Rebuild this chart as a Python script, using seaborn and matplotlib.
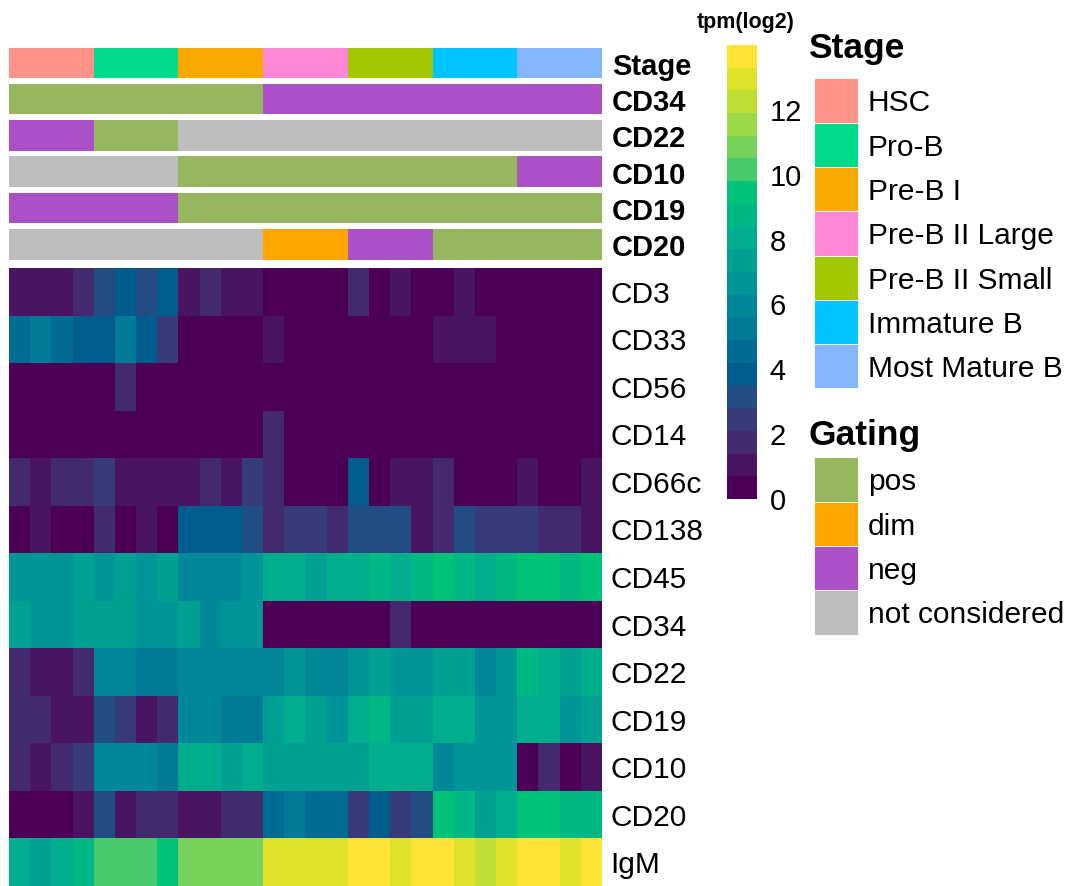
import numpy as np
import pandas as pd
import seaborn as sns
import matplotlib
matplotlib.use("Agg")
import matplotlib.pyplot as plt
from matplotlib.colors import ListedColormap
from matplotlib.patches import Rectangle

# ---------------------------------------------------------------- data
stages = ["HSC", "Pro-B", "Pre-B I", "Pre-B II Large", "Pre-B II Small",
          "Immature B", "Most Mature B"]
stage_colors = ["#FF9289", "#00DB8B", "#F7A900", "#FF85D5", "#A3C800",
                "#00C4FF", "#86B5FF"]
replicates = 4

gating_levels = ["pos", "dim", "neg", "not considered"]
gating_colors = ["#97B75E", "#FFA500", "#AB50C6", "#BEBEBE"]

gate_markers = ["CD34", "CD22", "CD10", "CD19", "CD20"]
gate_cd34 = ["pos", "pos", "pos", "neg", "neg", "neg", "neg"]
gate_cd22 = ["neg", "pos", "not considered", "not considered", "not considered",
             "not considered", "not considered"]
gate_cd10 = ["not considered", "not considered", "pos", "pos", "pos", "pos", "neg"]
gate_cd19 = ["neg", "neg", "pos", "pos", "pos", "pos", "pos"]
gate_cd20 = ["not considered", "not considered", "not considered", "dim", "neg",
             "pos", "pos"]

genes = ["CD3", "CD33", "CD56", "CD14", "CD66c", "CD138", "CD45", "CD34",
         "CD22", "CD19", "CD10", "CD20", "IgM"]

# log2 tpm, 28 samples (4 per stage)
cd3 = [1.0, 0.9, 1.1, 1.8, 3.2, 3.9, 3.0, 4.0, 1.1, 1.6, 1.0, 0.9, 0.0, 0.1,
       0.0, 0.2, 1.8, 0.0, 1.2, 0.0, 0.1, 1.0, 0.0, 0.0, 0.1, 0.0, 0.0, 0.0]
cd33 = [4.6, 5.3, 4.7, 3.8, 3.7, 5.1, 4.0, 2.5, 0.0, 0.1, 0.0, 0.0, 1.0, 0.0,
        0.1, 0.0, 0.0, 0.0, 0.2, 0.0, 0.9, 1.1, 1.0, 0.0, 0.0, 0.1, 0.0, 0.0]
cd56 = [0.0, 0.1, 0.0, 0.0, 0.1, 1.8, 0.0, 0.0, 0.0, 0.0, 0.1, 0.0, 0.0, 0.0,
        0.0, 0.0, 0.0, 0.0, 0.0, 0.1, 0.0, 0.0, 0.0, 0.0, 0.0, 0.0, 0.0, 0.0]
cd14 = [0.0, 0.0, 0.1, 0.0, 0.0, 0.0, 0.0, 0.1, 0.0, 0.0, 0.0, 0.0, 1.9, 0.0,
        0.0, 0.1, 0.0, 0.0, 0.0, 0.0, 0.0, 0.0, 0.1, 0.0, 0.0, 0.0, 0.0, 0.0]
cd66c = [1.8, 1.1, 1.7, 1.9, 2.4, 1.0, 1.2, 0.9, 1.1, 1.7, 1.0, 2.5, 1.8, 0.1,
         0.0, 0.2, 3.8, 0.1, 1.0, 1.1, 1.6, 0.0, 0.1, 0.0, 1.2, 0.0, 0.1, 1.0]
cd138 = [0.2, 1.0, 0.1, 0.0, 1.8, 0.1, 1.2, 0.0, 3.9, 3.8, 4.0, 3.2, 1.9, 2.4,
         2.6, 1.7, 3.1, 3.3, 3.0, 1.1, 1.8, 3.2, 2.5, 2.3, 2.4, 1.7, 1.9, 1.0]
cd45 = [6.6, 6.7, 6.5, 7.3, 6.6, 7.4, 6.8, 7.5, 6.0, 5.9, 6.1, 6.6, 8.1, 8.0,
        7.4, 8.2, 8.0, 8.8, 8.1, 8.6, 9.5, 8.7, 8.0, 8.9, 9.6, 9.4, 8.8, 9.5]
cd34 = [7.4, 6.7, 6.6, 7.3, 7.5, 7.2, 6.8, 6.5, 7.6, 6.0, 6.7, 6.6, 0.0, 0.1,
        0.0, 0.0, 0.1, 0.0, 1.8, 0.0, 0.0, 0.1, 0.0, 0.0, 0.0, 0.0, 0.1, 0.0]
cd22 = [1.7, 1.0, 1.1, 1.8, 5.9, 6.0, 5.2, 5.3, 5.8, 6.1, 5.9, 6.0, 5.8, 6.6,
        5.9, 6.0, 6.7, 7.1, 6.5, 6.6, 7.5, 7.3, 5.9, 6.7, 8.8, 8.0, 7.4, 8.1]
cd19 = [1.8, 1.7, 1.0, 1.1, 3.1, 2.4, 0.9, 1.7, 5.9, 6.0, 5.2, 5.3, 7.4, 8.0,
        7.3, 6.6, 8.2, 8.7, 7.4, 7.5, 8.1, 8.0, 6.7, 6.6, 8.0, 8.2, 6.5, 7.3]
cd10 = [1.7, 1.0, 1.8, 2.4, 6.0, 5.9, 6.1, 5.3, 8.1, 8.0, 7.4, 8.1, 7.3, 7.4,
        7.5, 7.3, 7.4, 8.0, 8.1, 8.2, 5.9, 6.6, 6.7, 6.5, 0.1, 1.8, 0.0, 1.1]
cd20 = [0.0, 0.1, 0.0, 1.0, 3.1, 1.1, 1.7, 1.8, 1.0, 0.9, 1.7, 1.8, 4.6, 5.2,
        4.5, 4.6, 2.4, 3.8, 2.5, 3.2, 9.4, 8.7, 7.3, 8.1, 9.5, 9.4, 8.8, 8.7]
igm = [8.1, 7.4, 8.0, 8.7, 10.2, 10.1, 10.3, 9.5, 10.8, 10.9, 10.7, 10.8, 12.9,
       13.0, 12.8, 12.9, 13.6, 13.7, 12.9, 13.6, 13.5, 12.9, 12.2, 13.0, 13.7,
       13.6, 12.9, 13.6]

value_range = (0, 14)
n_colors = 20
cbar_ticks = [0, 2, 4, 6, 8, 10, 12]


# ---------------------------------------------------------------- palette
def hcl_sequential(n, h=(300, 75), c=(40, 95), l=(15, 90), power=(1.0, 1.1)):
    """HCL based 'viridis' sequential palette (polar LUV -> sRGB)."""
    i = np.linspace(1, 0, n)
    H = h[1] - (h[1] - h[0]) * i
    C = c[1] - (c[1] - c[0]) * i ** power[0]
    L = l[1] - (l[1] - l[0]) * i ** power[1]
    Xn, Yn, Zn = 95.047, 100.0, 108.883
    hr = np.deg2rad(H)
    U, V = C * np.cos(hr), C * np.sin(hr)
    Y = np.where(L > 7.999592, Yn * ((L + 16) / 116) ** 3, Yn * L / 903.3)
    t = Xn + 15 * Yn + 3 * Zn
    un, vn = 4 * Xn / t, 9 * Yn / t
    up = U / (13 * L) + un
    vp = V / (13 * L) + vn
    X = 9 * Y * up / (4 * vp)
    Z = (12 - 3 * up - 20 * vp) * Y / (4 * vp)
    xyz = np.vstack([X, Y, Z]) / 100.0
    M = np.array([[3.2406, -1.5372, -0.4986],
                  [-0.9689, 1.8758, 0.0415],
                  [0.0557, -0.2040, 1.0570]])
    rgb = np.clip(M @ xyz, 0, 1)
    rgb = np.where(rgb <= 0.0031308, 12.92 * rgb,
                   1.055 * rgb ** (1 / 2.4) - 0.055)
    return [tuple(col) for col in np.clip(rgb, 0, 1).T]


heat_cmap = ListedColormap(hcl_sequential(n_colors))

# ---------------------------------------------------------------- frames
sample_stage = [s for s in stages for _ in range(replicates)]
samples = [f"{s}_{k + 1}" for s in stages for k in range(replicates)]
expr = pd.DataFrame([cd3, cd33, cd56, cd14, cd66c, cd138, cd45, cd34, cd22,
                     cd19, cd10, cd20, igm], index=genes, columns=samples)

gate_table = pd.DataFrame([gate_cd34, gate_cd22, gate_cd10, gate_cd19, gate_cd20],
                          index=gate_markers, columns=stages)

# ---------------------------------------------------------------- figure
sns.set_style("white")
plt.rcParams["font.family"] = ["Liberation Sans", "DejaVu Sans"]
plt.rcParams["text.color"] = "black"
plt.rcParams["xtick.color"] = "black"
plt.rcParams["ytick.color"] = "black"

W, H = 1073, 886
fig = plt.figure(figsize=(W / 100, H / 100), dpi=100)


def axes_px(x0, y0, x1, y1):
    return fig.add_axes([x0 / W, 1 - y1 / H, (x1 - x0) / W, (y1 - y0) / H])


HM_LEFT, HM_RIGHT = 9, 602
label_fs = 21.5

# main heatmap
ax = axes_px(HM_LEFT, 268, HM_RIGHT, 886)
sns.heatmap(expr, ax=ax, cmap=heat_cmap, vmin=value_range[0], vmax=value_range[1],
            cbar=False, xticklabels=False, yticklabels=True)
ax.set_xlabel("")
ax.set_ylabel("")
ax.yaxis.tick_right()
ax.tick_params(axis="y", length=0, pad=6, labelsize=label_fs,
               labelright=True, labelleft=False, labelcolor="black")
for lab in ax.get_yticklabels():
    lab.set_rotation(0)
    lab.set_va("center_baseline")

# column annotations
ann_rows = [("Stage", [stages.index(s) for s in sample_stage], stage_colors)]
for marker in gate_markers:
    codes = [gating_levels.index(gate_table.loc[marker, s]) for s in sample_stage]
    ann_rows.append((marker, codes, gating_colors))

ann_top, ann_step, ann_h = 47.5, 36.3, 30.5
for r, (name, codes, colors) in enumerate(ann_rows):
    top = ann_top + r * ann_step
    aax = axes_px(HM_LEFT, top, HM_RIGHT, top + ann_h)
    sns.heatmap(pd.DataFrame([codes], index=[name], columns=samples), ax=aax,
                cmap=ListedColormap(colors), vmin=-0.5, vmax=len(colors) - 0.5,
                cbar=False, xticklabels=False, yticklabels=False)
    aax.set_xlabel("")
    aax.set_ylabel("")
    fig.text((HM_RIGHT + 10) / W, 1 - (top + ann_h / 2 + 1) / H, name,
             fontsize=21, fontweight="bold", va="center_baseline", ha="left")

# colour bar
cax = axes_px(727, 45, 757, 499)
cb = fig.colorbar(ax.collections[0], cax=cax, ticks=cbar_ticks)
cb.outline.set_visible(False)
cax.tick_params(length=0, labelsize=21, pad=9, labelcolor="black")
fig.text(746 / W, 1 - 28 / H, "tpm(log2)", fontsize=15.5, fontweight="bold",
         ha="center", va="baseline")

# discrete legends
lax = axes_px(0, 0, W, H)
lax.set_xlim(0, W)
lax.set_ylim(H, 0)
lax.axis("off")


def draw_legend(title, labels, colors, title_baseline, first_top, sw=44.3):
    lax.text(808, title_baseline, title, fontsize=25.5, fontweight="bold",
             ha="left", va="baseline")
    for k, (lab, col) in enumerate(zip(labels, colors)):
        y = first_top + k * sw
        lax.add_patch(Rectangle((814, y), 44, sw, facecolor=col,
                                edgecolor="white", linewidth=0.6))
        lax.text(868, y + sw / 2, lab, fontsize=21.5, ha="left",
                 va="center_baseline")


draw_legend("Stage", stages, stage_colors, 58, 78.3)
draw_legend("Gating", gating_levels, gating_colors, 445, 457.3)

fig.savefig("out.png", dpi=100)
